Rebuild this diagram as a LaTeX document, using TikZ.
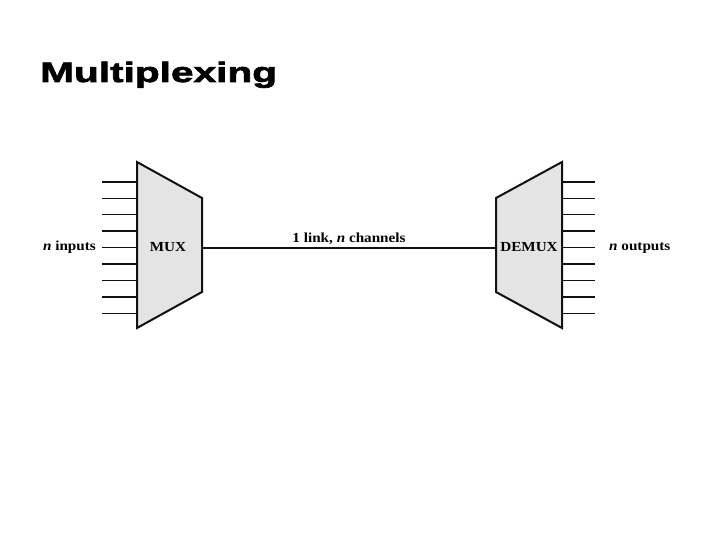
\documentclass[tikz,border=0pt]{standalone}
\usepackage{fontspec}
\usetikzlibrary{calc,positioning}
\newfontfamily\titlefont[FakeStretch=1.45,FakeBold=2.5]{Liberation Sans Bold}
\newfontfamily\labelfont[FakeStretch=1.1]{Liberation Serif}
\definecolor{Ink}{HTML}{111111}
\definecolor{BoxFill}{HTML}{E4E4E4}
\tikzset{
  muxbox/.style={draw=Ink, line width=2pt, fill=BoxFill, line join=miter},
  wire/.style={draw=Ink, line width=1.4pt},
  link/.style={draw=Ink, line width=1.8pt},
  lbl/.style={font=\labelfont\bfseries\fontsize{13.8}{15}\selectfont, inner sep=1pt}
}
\begin{document}
\begin{tikzpicture}[x=1pt,y=-1pt]
  \useasboundingbox (0,0) rectangle (720,540);
  \node[anchor=base west, inner sep=0pt, font=\titlefont\fontsize{28}{30}\selectfont] (title) at (40,82) {Multiplexing};
  % multiplexer
  \coordinate (muxTL) at (137,162);
  \coordinate (muxBL) at (137,328);
  \coordinate (muxTR) at (202,198);
  \coordinate (muxBR) at (202,292);
  \draw[muxbox] (muxTL) -- (muxTR) -- (muxBR) -- (muxBL) -- cycle;
  \node[lbl] (mux) at (168,247) {MUX};
  % demultiplexer
  \coordinate (demTL) at (496,198);
  \coordinate (demBL) at (496,292);
  \coordinate (demTR) at (562,162);
  \coordinate (demBR) at (562,328);
  \draw[muxbox] (demTL) -- (demTR) -- (demBR) -- (demBL) -- cycle;
  \node[lbl] (demux) at (529,247) {DEMUX};
  % input and output wires
  \foreach \i in {0,...,8}{
    \coordinate (in\i) at (102,{182+16.4*\i});
    \coordinate (out\i) at (595,{182+16.4*\i});
    \draw[wire] (in\i) -- (in\i -| muxTL);
    \draw[wire] (out\i -| demTR) -- (out\i);
  }
  \node[lbl, left=5pt of in4] (inputs) {\textit{n} inputs};
  \node[lbl, right=13pt of out4] (outputs) {\textit{n} outputs};
  % the link
  \coordinate (linkA) at (in4 -| muxTR);
  \coordinate (linkB) at (in4 -| demTL);
  \draw[link] (linkA) -- (linkB);
  \node[lbl, above=2pt] (chan) at ($(linkA)!0.5!(linkB)$) {1 link, \textit{n} channels};
\end{tikzpicture}
\end{document}
